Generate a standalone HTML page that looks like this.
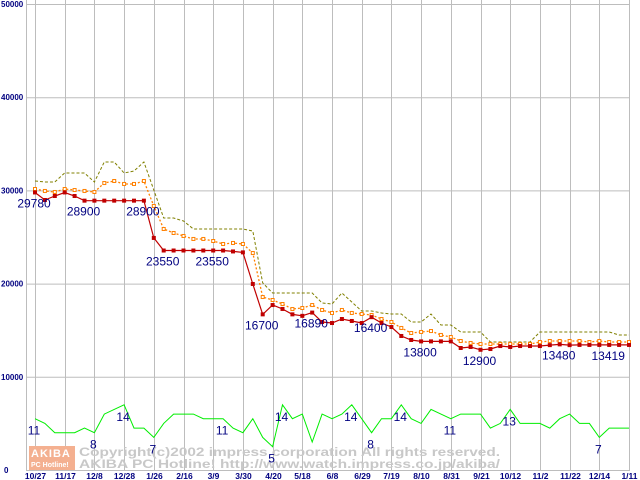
<!DOCTYPE html>
<html><head><meta charset="utf-8"><style>
html,body{margin:0;padding:0;background:#fff;width:640px;height:480px;overflow:hidden}
svg{display:block}
text{font-family:"Liberation Sans",sans-serif}
</style></head><body>
<svg id="chart" width="640" height="480" viewBox="0 0 640 480" xmlns="http://www.w3.org/2000/svg">
<g id="grid"></g>
<g id="yaxis"></g>
<g id="xaxis"></g>
<g id="watermark">
  <rect x="29" y="446" width="46" height="24" fill="#f4b090"/>
  <text x="31" y="457" font-size="11" font-weight="bold" fill="#fff" font-family="Liberation Mono,monospace" letter-spacing="1">AKIBA</text>
  <text x="31" y="467" font-size="7" font-weight="bold" fill="#fff">PC Hotline!</text>
  <text x="79" y="456" font-size="12" font-weight="bold" fill="#c8c8c8" font-family="Liberation Mono,monospace" textLength="421" lengthAdjust="spacingAndGlyphs">Copyright(c)2002 impress corporation All rights reserved.</text>
  <text x="79" y="468" font-size="12" font-weight="bold" fill="#c8c8c8" font-family="Liberation Mono,monospace" textLength="421" lengthAdjust="spacingAndGlyphs">AKIBA PC Hotline!  http://www.watch.impress.co.jp/akiba/</text>
</g>
<g id="series"></g>
<g id="labels"></g>
</svg>
<script>
const xTickLabels=["10/27","11/17","12/8","12/28","1/26","2/16","3/9","3/30","4/20","5/18","6/8","6/29","7/19","8/10","8/31","9/21","10/12","11/2","11/22","12/14","1/11"];
const yTicks=[0,10000,20000,30000,40000,50000];
const minPrice=[29780,28970,29400,29780,29400,28900,28900,28900,28900,28900,28900,28900,24900,23550,23550,23550,23550,23550,23550,23550,23450,23350,19960,16700,17700,17280,16700,16540,16890,15880,15770,16200,15990,15770,16400,15770,15340,14380,13950,13800,13800,13800,13800,13090,13200,12900,12980,13300,13200,13300,13300,13300,13400,13480,13400,13419,13419,13419,13419,13419,13419];
const avgPrice=[30150,29940,29830,30150,30040,29940,29830,30790,31010,30690,30690,31010,28330,25860,25430,25110,24790,24790,24570,24250,24360,24250,23280,18560,18240,17810,17270,17380,17700,17170,16850,17170,16850,16740,16630,16200,15880,15240,14700,14810,14910,14490,14270,13840,13630,13520,13520,13520,13520,13520,13520,13730,13840,13840,13840,13840,13730,13840,13730,13730,13730];
const maxPrice=[31010,30900,30900,31870,31870,31870,30900,33050,33050,31870,32080,33050,30040,27040,27040,26720,25860,25860,25860,25860,25860,25860,25640,20070,18990,18990,18990,18990,18990,17920,17810,18990,18030,17060,17060,16850,16740,16740,15880,15880,16740,15560,15560,14810,14810,14810,13730,13730,13730,13730,13730,14810,14810,14810,14810,14810,14810,14810,14810,14490,14490];
const shopCount=[11,10,8,8,8,9,8,12,13,14,9,9,7,10,12,12,12,11,11,11,9,8,11,7,5,14,11,12,6,12,11,12,14,11,8,11,11,14,11,10,13,12,11,12,12,12,9,10,13,10,10,10,9,11,12,10,10,7,9,9,9];
const priceLabelIdx=[0,5,11,13,18,23,28,34,39,45,53,58];
const countLabelIdx=[0,6,9,12,19,24,25,32,34,37,42,48,57];

const NS="http://www.w3.org/2000/svg";
function X(i){return 35+i*(594/60);}
function Y(v){return 470-v*(466/50000);}
function tickX(k){return 35+k*(594/20);}
function mk(tag,attrs,parent){const e=document.createElementNS(NS,tag);for(const k in attrs)e.setAttribute(k,attrs[k]);parent.appendChild(e);return e;}
const grid=document.getElementById('grid'),yax=document.getElementById('yaxis'),xax=document.getElementById('xaxis'),ser=document.getElementById('series'),lab=document.getElementById('labels');

yTicks.forEach(v=>{
  const l=mk('line',{x1:26,x2:630,y1:Y(v)+0.5,y2:Y(v)+0.5,stroke:'#bdbdbd','stroke-width':1},grid);
  
  
  const t=mk('text',{x:v===0?4:1,y:Y(v)+3,'font-size':8,'font-weight':'bold',fill:'#000080'},yax);
  t.textContent=v;
  
  
});
const ax=mk('line',{x1:26.5,x2:26.5,y1:0,y2:470,stroke:'#bdbdbd'},grid);


xTickLabels.forEach((s,k)=>{
  const x=Math.round(tickX(k))+0.5;
  const l=mk('line',{x1:x,x2:x,y1:0,y2:471,stroke:'#bdbdbd'},grid);
  
  
  const t=mk('text',{x:x,y:479,'font-size':8.5,'font-weight':'bold',fill:'#000080','text-anchor':'middle'},xax);
  t.textContent=s;
  
  
});
function pts(arr,mul){return arr.map((v,i)=>X(i).toFixed(1)+','+Y(v*mul).toFixed(1)).join(' ');}
const gl=mk('polyline',{points:pts(shopCount,500),fill:'none',stroke:'#00ee00','stroke-width':1},ser);


const ol=mk('polyline',{points:pts(maxPrice,1),fill:'none',stroke:'#808000','stroke-width':1,'stroke-dasharray':'3,2'},ser);


const al=mk('polyline',{points:pts(avgPrice,1),fill:'none',stroke:'#ff8000','stroke-width':1.3,'stroke-dasharray':'2,2'},ser);


avgPrice.forEach((v,i)=>{
  const r=mk('rect',{x:X(i)-1.5,y:Y(v)-1.5,width:3,height:3,fill:'#fff',stroke:'#ff8000','stroke-width':1},ser);
  
  
});
const rl=mk('polyline',{points:pts(minPrice,1),fill:'none',stroke:'#c00000','stroke-width':1.2},ser);


minPrice.forEach((v,i)=>{
  const r=mk('rect',{x:X(i)-2,y:Y(v)-2,width:4,height:4,fill:'#c00000'},ser);
  
  
});
priceLabelIdx.forEach(i=>{
  const t=mk('text',{x:X(i)-1,y:Y(minPrice[i])+15,'font-size':12,fill:'#000080','text-anchor':'middle'},lab);
  t.textContent=minPrice[i];
  
  
});
countLabelIdx.forEach(i=>{
  const t=mk('text',{x:X(i)-1,y:Y(shopCount[i]*500)+16,'font-size':12,fill:'#000080','text-anchor':'middle'},lab);
  t.textContent=shopCount[i];
  
  
});
</script>
</body></html>
